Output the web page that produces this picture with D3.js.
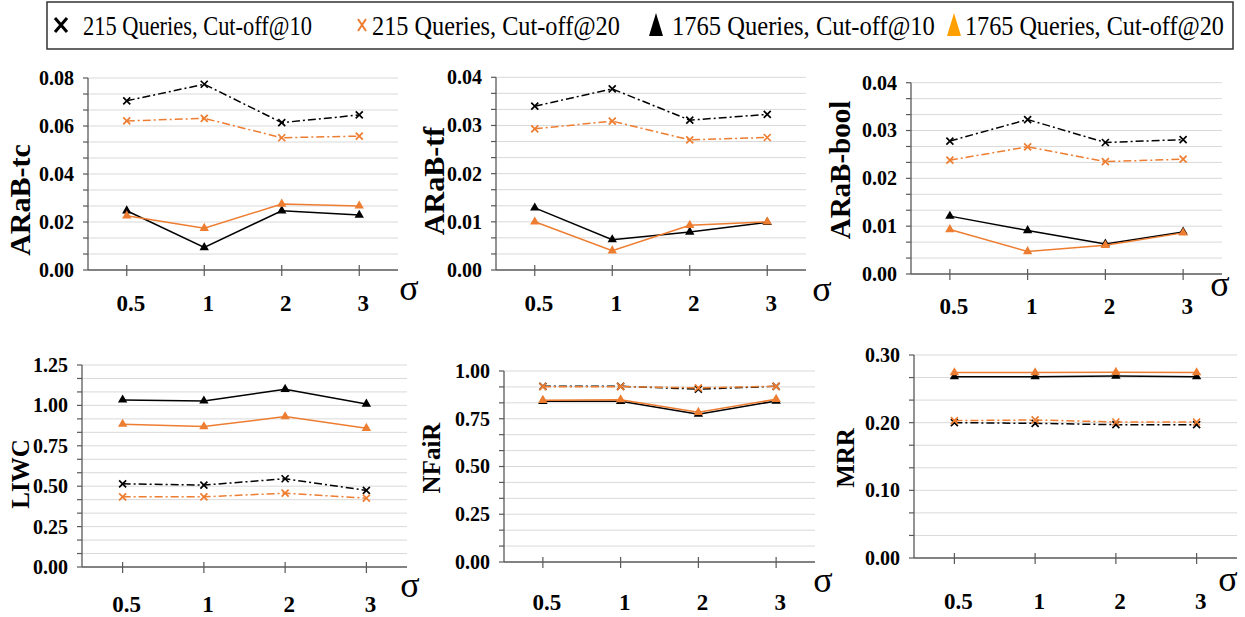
<!DOCTYPE html>
<html><head><meta charset="utf-8">
<script src="https://cdn.jsdelivr.net/npm/d3@7"></script>
<style>body{margin:0;background:#fff}svg text{font-family:"Liberation Serif","Times New Roman",serif}</style>
</head><body><svg id="chart" width="1245" height="617"></svg>
<script>
// ---- data ----
const sigmas = ["0.5", "1", "2", "3"];
const seriesNames = ["215 Queries, Cut-off@10", "215 Queries, Cut-off@20", "1765 Queries, Cut-off@10", "1765 Queries, Cut-off@20"];
const metricNames = ["ARaB-tc", "ARaB-tf", "ARaB-bool", "LIWC", "NFaiR", "MRR"];

const arabTc_215_10 = [0.0705, 0.0774, 0.0614, 0.0646];
const arabTc_215_20 = [0.0621, 0.0632, 0.0551, 0.0558];
const arabTc_1765_10 = [0.0247, 0.0094, 0.0247, 0.0229];
const arabTc_1765_20 = [0.0226, 0.0174, 0.0275, 0.0267];

const arabTf_215_10 = [0.0340, 0.0376, 0.0311, 0.0323];
const arabTf_215_20 = [0.0293, 0.0309, 0.0270, 0.0275];
const arabTf_1765_10 = [0.0129, 0.0063, 0.0079, 0.0099];
const arabTf_1765_20 = [0.0100, 0.0040, 0.0093, 0.0100];

const arabBool_215_10 = [0.0278, 0.0323, 0.0275, 0.0281];
const arabBool_215_20 = [0.0238, 0.0266, 0.0235, 0.0240];
const arabBool_1765_10 = [0.0121, 0.0091, 0.0063, 0.0088];
const arabBool_1765_20 = [0.0093, 0.0047, 0.0060, 0.0086];

const liwc_215_10 = [0.515, 0.507, 0.546, 0.474];
const liwc_215_20 = [0.434, 0.434, 0.457, 0.426];
const liwc_1765_10 = [1.034, 1.028, 1.100, 1.009];
const liwc_1765_20 = [0.884, 0.869, 0.931, 0.859];

const nfair_215_10 = [0.920, 0.920, 0.905, 0.920];
const nfair_215_20 = [0.918, 0.918, 0.912, 0.920];
const nfair_1765_10 = [0.842, 0.842, 0.774, 0.843];
const nfair_1765_20 = [0.847, 0.850, 0.784, 0.852];

const mrr_215_10 = [0.200, 0.199, 0.197, 0.197];
const mrr_215_20 = [0.203, 0.204, 0.201, 0.201];
const mrr_1765_10 = [0.268, 0.268, 0.269, 0.268];
const mrr_1765_20 = [0.274, 0.274, 0.2745, 0.274];

const yTicksTc = [0, 0.02, 0.04, 0.06, 0.08];
const yTicksTf = [0, 0.01, 0.02, 0.03, 0.04];
const yTicksBool = [0, 0.01, 0.02, 0.03, 0.04];
const yTicksLiwc = [0, 0.25, 0.5, 0.75, 1.0, 1.25];
const yTicksNfair = [0, 0.25, 0.5, 0.75, 1.0];
const yTicksMrr = [0, 0.1, 0.2, 0.3];

// ---- layout / styling ----
const ORANGE = "#ED7D31";
const seriesStyle = [
  {color: "#000", marker: "x", dash: "8,3,2,3"},
  {color: ORANGE, marker: "x", dash: "8,3,2,3"},
  {color: "#000", marker: "tri", dash: null},
  {color: ORANGE, marker: "tri", dash: null}
];

const panels = [
  {name: metricNames[0], data: [arabTc_215_10, arabTc_215_20, arabTc_1765_10, arabTc_1765_20], ticks: yTicksTc, fmt: ".2f",
   x0: 88, x1: 398, yTop: 78, yBot: 270, lab: [19, 200], labSize: 30, sig: [409, 300], xlabY: 311},
  {name: metricNames[1], data: [arabTf_215_10, arabTf_215_20, arabTf_1765_10, arabTf_1765_20], ticks: yTicksTf, fmt: ".2f",
   x0: 496, x1: 806, yTop: 77.3, yBot: 270, lab: [433, 181], labSize: 30, sig: [822, 301], xlabY: 311},
  {name: metricNames[2], data: [arabBool_215_10, arabBool_215_20, arabBool_1765_10, arabBool_1765_20], ticks: yTicksBool, fmt: ".2f",
   x0: 911, x1: 1222, yTop: 82.7, yBot: 274, lab: [840, 170], labSize: 29, sig: [1220, 296], xlabY: 314},
  {name: metricNames[3], data: [liwc_215_10, liwc_215_20, liwc_1765_10, liwc_1765_20], ticks: yTicksLiwc, fmt: ".2f",
   x0: 82, x1: 407, yTop: 365, yBot: 567, lab: [20, 474], labSize: 25, sig: [410, 597], xlabY: 612},
  {name: metricNames[4], data: [nfair_215_10, nfair_215_20, nfair_1765_10, nfair_1765_20], ticks: yTicksNfair, fmt: ".2f",
   x0: 504, x1: 815, yTop: 371, yBot: 562, lab: [431, 458], labSize: 25, sig: [823, 592], xlabY: 610},
  {name: metricNames[5], data: [mrr_215_10, mrr_215_20, mrr_1765_10, mrr_1765_20], ticks: yTicksMrr, fmt: ".2f",
   x0: 914, x1: 1237, yTop: 355, yBot: 558, lab: [845, 458], labSize: 25, sig: [1228, 591], xlabY: 609}
];

const svg = d3.select("#chart");
const AXIS = "#595959";
const GRID = "#d9d9d9";

panels.forEach(p => {
  const g = svg.append("g");
  const x = d3.scalePoint().domain(sigmas).range([p.x0, p.x1]).padding(0.5);
  const yMax = p.ticks[p.ticks.length - 1];
  const step = p.ticks[1] - p.ticks[0];
  const y = d3.scaleLinear().domain([0, yMax]).range([p.yBot, p.yTop]);
  const minor = d3.range(0, Math.round((yMax / step) * 3) + 1).map(i => i * step / 3);

  // gridlines
  g.append("g").selectAll("line").data(minor.slice(1)).join("line")
    .attr("x1", p.x0).attr("x2", p.x1)
    .attr("y1", d => y(d)).attr("y2", d => y(d))
    .attr("stroke", GRID).attr("stroke-width", 1);

  // y tick marks
  g.append("g").selectAll("line").data(minor).join("line")
    .attr("x1", p.x0 - 5).attr("x2", p.x0)
    .attr("y1", d => y(d)).attr("y2", d => y(d))
    .attr("stroke", AXIS).attr("stroke-width", 1.2);

  // y axis labels via d3 axis
  const ya = g.append("g").attr("transform", `translate(${p.x0},0)`)
    .call(d3.axisLeft(y).tickValues(p.ticks).tickFormat(d3.format(p.fmt)).tickSize(0).tickPadding(14));
  ya.attr("font-family", null);
  ya.select(".domain").remove();
  ya.selectAll("text").attr("font-size", 20).attr("font-weight", "bold").attr("fill", "#000")
    .style("font-family", '"Liberation Serif", serif');

  // axis lines
  g.append("line").attr("x1", p.x0).attr("x2", p.x0).attr("y1", p.yTop).attr("y2", p.yBot)
    .attr("stroke", AXIS).attr("stroke-width", 1.3);
  g.append("line").attr("x1", p.x0).attr("x2", p.x1).attr("y1", p.yBot).attr("y2", p.yBot)
    .attr("stroke", AXIS).attr("stroke-width", 1.3);

  // x ticks
  g.append("g").selectAll("line").data(sigmas).join("line")
    .attr("x1", d => x(d)).attr("x2", d => x(d))
    .attr("y1", p.yBot - 5).attr("y2", p.yBot + 6)
    .attr("stroke", AXIS).attr("stroke-width", 1.2);

  // x labels
  g.append("g").selectAll("text").data(sigmas).join("text")
    .attr("x", d => x(d) + 4).attr("y", p.xlabY)
    .attr("text-anchor", "middle").attr("font-size", 23).attr("font-weight", "bold")
    .text(d => d);

  // sigma
  g.append("text").attr("x", p.sig[0]).attr("y", p.sig[1]).attr("text-anchor", "middle")
    .attr("font-size", 36).text("σ");

  // y title
  g.append("text").attr("transform", `translate(${p.lab[0]},${p.lab[1]}) rotate(-90)`)
    .attr("text-anchor", "middle").attr("dominant-baseline", "central")
    .attr("font-size", p.labSize).attr("font-weight", "bold").text(p.name);

  // series
  const line = d3.line().x((d, i) => x(sigmas[i])).y(d => y(d));
  p.data.forEach((vals, si) => {
    const st = seriesStyle[si];
    g.append("path").datum(vals).attr("d", line).attr("fill", "none")
      .attr("stroke", st.color).attr("stroke-width", 1.5)
      .attr("stroke-dasharray", st.dash);
    const mk = g.append("g").selectAll("g").data(vals).join("g")
      .attr("transform", (d, i) => `translate(${x(sigmas[i])},${y(d)})`);
    if (st.marker === "x") {
      mk.append("path").attr("d", "M-3.5,-3.5L3.5,3.5M-3.5,3.5L3.5,-3.5")
        .attr("stroke", st.color).attr("stroke-width", 1.7).attr("fill", "none");
    } else {
      mk.append("path").attr("d", d3.symbol(d3.symbolTriangle, 38)()).attr("fill", st.color);
    }
  });
});

// ---- legend ----
const lg = svg.append("g");
lg.append("rect").attr("x", 47).attr("y", 2).attr("width", 1186).attr("height", 47)
  .attr("fill", "none").attr("stroke", "#333").attr("stroke-width", 1.5);
const legendItems = [
  {mx: 61, tx: 83, tl: 229},
  {mx: 362, tx: 372, tl: 248},
  {mx: 656, tx: 672, tl: 263},
  {mx: 954, tx: 965, tl: 259}
];
legendItems.forEach((it, i) => {
  const c = lg.append("g").attr("transform", `translate(${it.mx},25)`);
  if (i === 0) {
    c.append("path").attr("d", "M-6,-7L6,7M-6,7L6,-7").attr("stroke", "#000").attr("stroke-width", 3);
  } else if (i === 1) {
    c.append("path").attr("d", "M-4,-6L4,6M-4,6L4,-6").attr("stroke", ORANGE).attr("stroke-width", 2);
  } else {
    c.append("path").attr("d", "M0,-12L7,11L-7,11Z").attr("fill", i === 2 ? "#000" : "#FFA000");
  }
  const t = lg.append("text").attr("x", 0).attr("y", 0).attr("font-size", 28).text(seriesNames[i]);
  const natural = t.node().getComputedTextLength();
  const sx = it.tl / natural;
  t.attr("transform", `translate(${it.tx},35) scale(${sx},1)`);
});
</script></body></html>
